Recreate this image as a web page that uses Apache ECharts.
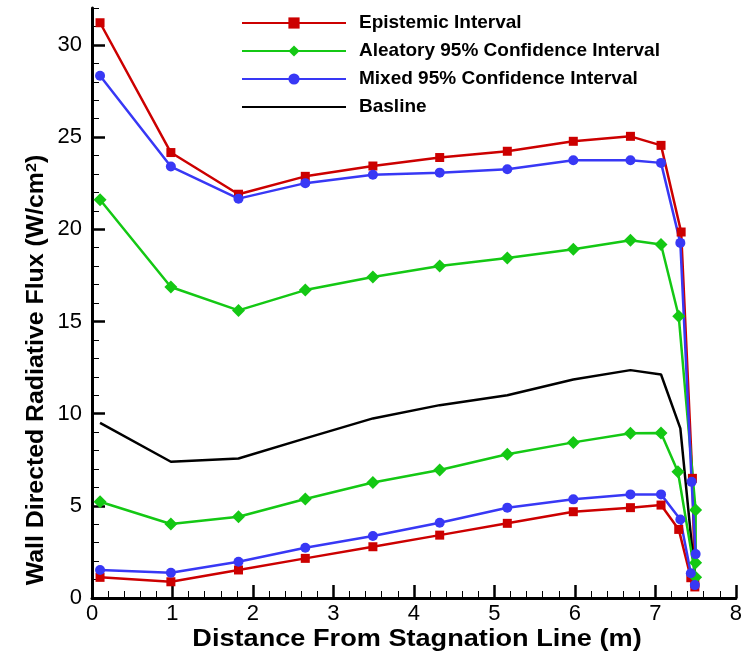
<!DOCTYPE html>
<html><head><meta charset="utf-8">
<script src="https://cdn.jsdelivr.net/npm/echarts@6/dist/echarts.min.js"></script>
<style>html,body{margin:0;padding:0;background:#fff}#c{width:745px;height:655px}</style>
</head><body><div id="c"></div>
<script>
// Data (x in m, y in W/cm^2)
var epistemicUpper = [[0.1,31.2],[0.98,24.16],[1.82,21.9],[2.65,22.87],[3.49,23.43],[4.32,23.89],[5.16,24.23],[5.98,24.77],[6.69,25.04],[7.07,24.55],[7.32,19.85],[7.46,6.49],[7.49,0.8]];
var epistemicLower = [[0.1,1.12],[0.98,0.88],[1.82,1.52],[2.65,2.15],[3.49,2.78],[4.32,3.41],[5.16,4.05],[5.98,4.68],[6.69,4.9],[7.07,5.04],[7.29,3.72],[7.44,1.1],[7.49,0.6]];
var aleatoryUpper = [[0.1,21.6],[0.98,16.87],[1.82,15.6],[2.65,16.7],[3.49,17.41],[4.32,18.01],[5.16,18.44],[5.98,18.92],[6.69,19.4],[7.07,19.17],[7.29,15.28],[7.5,4.77],[7.5,1.91]];
var aleatoryLower = [[0.1,5.22],[0.98,4.01],[1.82,4.41],[2.65,5.37],[3.49,6.26],[4.32,6.94],[5.16,7.8],[5.98,8.44],[6.69,8.93],[7.07,8.95],[7.28,6.85],[7.5,1.12]];
var mixedUpper = [[0.1,28.33],[0.98,23.4],[1.82,21.66],[2.65,22.5],[3.49,22.96],[4.32,23.07],[5.16,23.25],[5.98,23.74],[6.69,23.74],[7.07,23.6],[7.31,19.26],[7.45,6.3],[7.5,2.38]];
var mixedLower = [[0.1,1.52],[0.98,1.37],[1.82,1.97],[2.65,2.73],[3.49,3.36],[4.32,4.08],[5.16,4.9],[5.98,5.35],[6.69,5.62],[7.07,5.62],[7.31,4.26],[7.44,1.34],[7.49,0.7]];
var baseline = [[0.1,9.5],[0.98,7.39],[1.82,7.57],[2.65,8.66],[3.49,9.74],[4.32,10.46],[5.16,11.0],[5.98,11.85],[6.69,12.36],[7.07,12.12],[7.31,9.2],[7.49,1.2]];
var seriesNames = ['Epistemic Interval','Aleatory 95% Confidence Interval','Mixed 95% Confidence Interval','Basline'];
var yMajorTicks = [0,5,10,15,20,25,30];
var yMinorTicks = [0,1,2,3,4,5,6,7,8,9,10,11,12,13,14,15,16,17,18,19,20,21,22,23,24,25,26,27,28,29,30,31,32];
var xTitle = 'Distance From Stagnation Line (m)';
var yTitle = 'Wall Directed Radiative Flux (W/cm{s|2})';

var RED='#cc0000', GREEN='#14c814', BLUE='#3838f5', BLACK='#000000';
var FONT='"Liberation Sans",Arial,sans-serif';
var BOLD='"Liberation Sans",Arial,sans-serif';

function mk(name, data, color, symbol, size){
  return {name:name, type:'line', data:data, xAxisIndex:0, yAxisIndex:0,
    symbol:symbol, symbolSize:size, showSymbol: symbol!=='none',
    lineStyle:{color:color,width:2.5}, itemStyle:{color:color}, animation:false, z: 3};
}

var chart = echarts.init(document.getElementById('c'), null, {renderer:'canvas'});
chart.setOption({
  backgroundColor:'#fff',
  animation:false,
  grid:{left:92, right:6, top:8, bottom:57, containLabel:false},
  legend:{
    data:[
      {name:seriesNames[0]},{name:seriesNames[1]},{name:seriesNames[2]},
      {name:seriesNames[3], itemStyle:{opacity:0}}
    ],
    orient:'vertical', left:236, top:8, itemWidth:104, itemHeight:14, itemGap:8,
    textStyle:{fontFamily:BOLD, fontWeight:'bold', fontSize:19, color:'#000', lineHeight:20, padding:[0,0,0,8]},
    selectedMode:false
  },
  xAxis:[{
    type:'value', min:0, max:8, interval:1,
    axisLine:{show:true, onZero:false, lineStyle:{color:'#000', width:3}},
    axisTick:{show:true, inside:true, length:13, lineStyle:{color:'#000', width:2.5}},
    minorTick:{show:true, splitNumber:5, length:7, lineStyle:{color:'#000', width:1}},
    axisLabel:{fontFamily:FONT, fontSize:22, color:'#000', margin:5},
    splitLine:{show:false}
  }],
  yAxis:[{
    type:'value', min:0, max:32, interval:5,
    axisLine:{show:true, onZero:false, lineStyle:{color:'#000', width:3}},
    axisTick:{show:true, inside:true, length:13, customValues:yMajorTicks, lineStyle:{color:'#000', width:2.5}},
    axisLabel:{fontFamily:FONT, fontSize:22, color:'#000', margin:10, customValues:yMajorTicks},
    splitLine:{show:false}
  },{
    type:'value', min:0, max:32, interval:1, position:'left',
    axisLine:{show:false},
    axisTick:{show:true, inside:true, length:7, customValues:yMinorTicks, lineStyle:{color:'#000', width:1}},
    axisLabel:{show:false},
    splitLine:{show:false}
  }],
  graphic:[
    {type:'text', x:417, y:640, scaleX:1.18, style:{text:xTitle, font:'bold 23px '+BOLD, fill:'#000', textAlign:'center', textVerticalAlign:'middle'}},
    {type:'text', x:37, y:370, rotation:Math.PI/2, scaleX:1.08, style:{
      text:yTitle,
      rich:{s:{font:'bold 15px '+BOLD, fill:'#000', verticalAlign:'top', padding:[0,0,10,0]}},
      font:'bold 23px '+BOLD, fill:'#000', textAlign:'center', textVerticalAlign:'middle'}}
  ],
  series:[
    mk(seriesNames[0], epistemicUpper, RED, 'rect', 9),
    mk(seriesNames[1], aleatoryUpper, GREEN, 'diamond', 13),
    mk(seriesNames[2], mixedUpper, BLUE, 'circle', 10),
    mk(seriesNames[3], baseline, BLACK, 'none', 0),
    mk(seriesNames[0], epistemicLower, RED, 'rect', 9),
    mk(seriesNames[1], aleatoryLower, GREEN, 'diamond', 13),
    mk(seriesNames[2], mixedLower, BLUE, 'circle', 10)
  ]
});
</script></body></html>
